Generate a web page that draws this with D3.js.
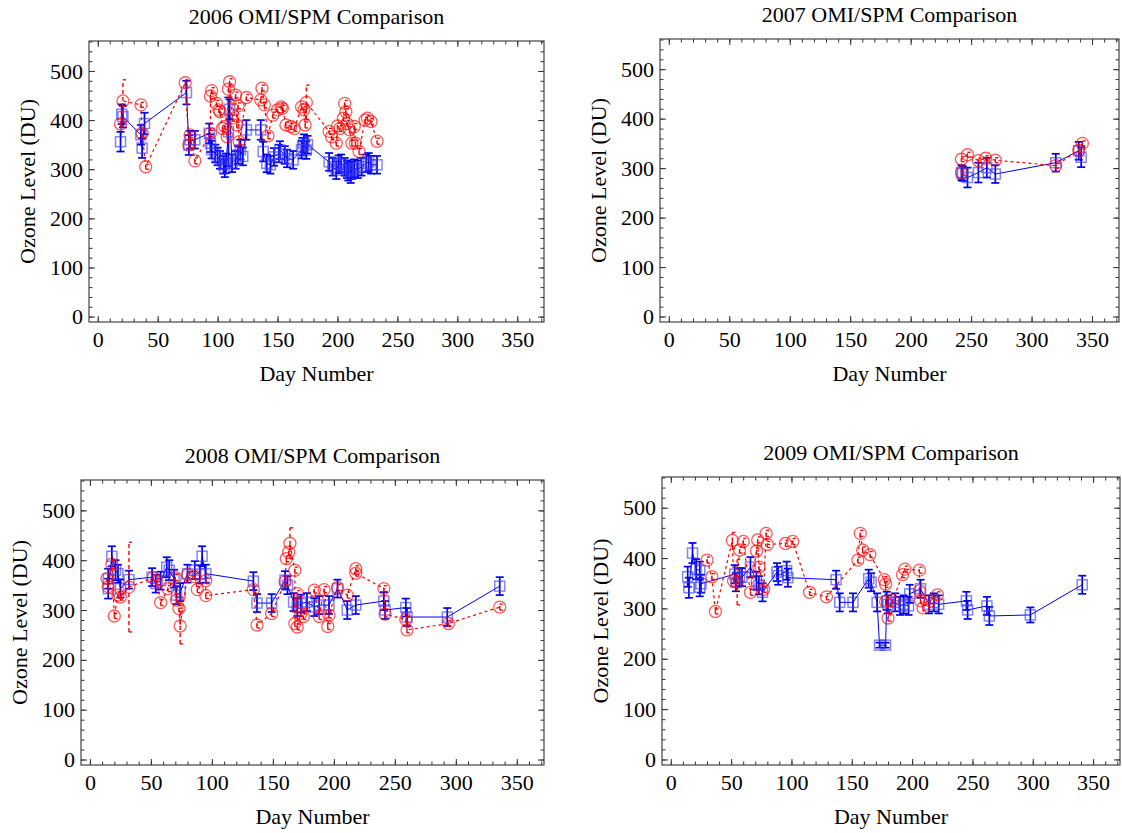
<!DOCTYPE html>
<html>
<head>
<meta charset="utf-8">
<script src="https://cdn.jsdelivr.net/npm/d3@7"></script>
<style>
  body { margin: 0; background: #fff; }
  svg text { font-family: "Liberation Serif", "Times New Roman", serif; fill: #000; }
</style>
</head>
<body>
<svg id="chart" width="1122" height="833"></svg>
<script>
// ticks shared by all four panels
var xMajor = [0, 50, 100, 150, 200, 250, 300, 350];
var yMajor = [0, 100, 200, 300, 400, 500];
var xMinor = d3.range(0, 371, 10);
var yMinor = d3.range(0, 561, 20);

// OMI (blue squares): [day, ozone DU, error]
var omi2006 = [[19,356,20],[20,412,20],[21,407,22],[36,370,20],[37,343,20],[39,393,22],[74,456,24],
  [76,349,20],[77,360,18],[81,360,18],[93,373,20],[94,353,18],[95,340,18],[98,332,18],[100,326,18],
  [102,319,18],[105,309,18],[106,302,18],[107,312,20],[109,376,70],[110,422,20],[112,312,18],[115,319,18],
  [117,329,18],[119,340,20],[121,326,18],[124,380,20],[136,380,20],[138,336,20],[141,312,18],[144,309,18],
  [147,325,18],[151,332,18],[152,339,18],[156,329,18],[158,322,18],[163,319,18],[170,340,18],[171,346,18],
  [172,353,18],[174,339,18],[175,350,18],[193,315,18],[196,305,18],[199,298,18],[201,310,18],[203,312,18],
  [206,305,18],[208,300,18],[209,295,18],[211,290,18],[212,298,18],[214,302,18],[217,300,18],[220,305,18],
  [224,312,18],[226,315,18],[228,309,18],[233,309,18]];
var omi2007 = [[242,291,15],[243,289,15],[247,281,20],[256,291,20],[263,301,20],[270,288,18],
  [320,311,18],[339,335,18],[341,322,20]];
var omi2008 = [[15,363,20],[15,343,20],[18,408,20],[21,380,20],[23,373,18],[25,343,18],[32,361,18],
  [51,366,18],[54,353,18],[58,359,18],[63,386,20],[65,380,20],[69,363,18],[71,330,18],[74,336,18],
  [80,373,18],[86,380,18],[90,372,18],[92,408,20],[95,373,18],[134,358,18],[137,314,18],[149,314,18],
  [160,360,18],[162,350,18],[167,316,18],[170,306,18],[173,313,18],[178,316,18],[184,306,18],[188,310,18],
  [196,310,18],[203,343,18],[211,300,18],[218,310,18],[241,318,18],[242,300,18],[259,305,18],[260,286,18],
  [293,286,18],[336,348,18]];
var omi2009 = [[14,363,20],[15,341,20],[18,410,20],[21,378,20],[24,375,18],[24,342,18],[25,349,18],
  [53,368,18],[54,352,18],[57,362,18],[59,362,18],[66,382,20],[71,355,18],[73,346,18],[76,332,18],
  [88,372,18],[89,365,18],[96,375,18],[97,361,18],[137,357,18],[140,312,18],[151,312,18],[164,359,18],
  [166,352,18],[171,312,18],[173,227,5],[178,227,5],[179,315,18],[180,308,18],[186,312,18],[190,305,18],
  [193,308,18],[197,305,18],[198,329,18],[207,339,18],[214,308,18],[218,312,18],[222,308,18],[245,315,18],
  [246,297,18],[262,305,18],[264,285,18],[298,287,15],[341,347,18]];

// SPM (red circles): [day, ozone DU, error]
var spm2006 = [[19,392,6],[21,439,43],[36,431,5],[37,373,8],[40,305,5],[73,476,6],[76,349,6],[77,370,6],
  [81,317,6],[94,373,6],[94,449,6],[95,460,6],[99,434,6],[101,421,6],[102,417,6],[104,383,6],[106,387,6],
  [108,366,6],[109,463,6],[110,478,6],[112,404,6],[115,451,6],[116,390,6],[117,429,6],[118,356,6],
  [124,446,6],[136,441,6],[137,465,6],[139,431,6],[142,368,6],[146,410,6],[150,421,6],[153,427,6],
  [154,424,6],[157,390,6],[161,387,6],[164,383,6],[170,427,6],[172,421,6],[173,390,6],[174,436,35],
  [193,377,6],[195,366,6],[199,353,6],[200,388,6],[202,383,6],[205,404,6],[206,434,6],[207,417,6],
  [208,393,6],[210,380,6],[212,353,6],[214,387,6],[215,353,6],[218,336,6],[223,400,6],[225,404,6],
  [228,397,6],[233,357,6]];
var spm2007 = [[242,291,5],[242,318,5],[247,327,5],[256,315,5],[262,320,5],[270,316,5],[320,305,5],
  [339,336,5],[342,350,5]];
var spm2008 = [[14,363,6],[15,347,6],[18,392,8],[20,288,5],[23,330,6],[25,326,6],[32,346,90],[52,365,6],
  [55,357,6],[58,315,6],[64,343,6],[70,365,6],[71,320,6],[73,303,6],[74,268,36],[80,371,6],[86,367,6],
  [88,341,6],[95,359,6],[95,329,6],[134,341,6],[137,270,6],[149,293,6],[160,357,6],[161,403,6],[163,416,6],
  [164,434,31],[168,380,6],[168,273,6],[170,333,6],[170,266,6],[173,293,6],[175,287,6],[184,340,6],
  [188,287,6],[192,341,6],[195,267,6],[196,290,6],[203,345,6],[211,330,6],[218,383,6],[218,374,6],
  [241,343,6],[242,292,6],[259,281,6],[260,260,6],[294,273,6],[336,306,6]];
var spm2009 = [[30,396,6],[34,363,6],[37,294,5],[51,435,16],[52,355,6],[55,352,45],[57,416,6],[60,433,6],
  [66,332,6],[71,414,6],[72,436,6],[73,382,6],[77,338,6],[79,449,6],[80,427,6],[95,429,6],[101,433,6],
  [115,332,6],[129,323,6],[155,396,6],[157,449,6],[159,416,6],[165,407,6],[177,357,6],[178,348,6],
  [178,313,6],[180,281,6],[184,316,6],[192,367,6],[194,378,6],[206,376,6],[206,335,6],[207,315,6],
  [209,301,6],[215,315,6],[221,327,6]];

var titles = ["2006 OMI/SPM Comparison", "2007 OMI/SPM Comparison",
              "2008 OMI/SPM Comparison", "2009 OMI/SPM Comparison"];
var omiSets = [omi2006, omi2007, omi2008, omi2009];
var spmSets = [spm2006, spm2007, spm2008, spm2009];

// frame of each panel in page pixels
var boxes = [
  { l: 89,  r: 544,  t: 41,  b: 322 },
  { l: 660, r: 1119, t: 39,  b: 322 },
  { l: 81,  r: 544,  t: 480, b: 765 },
  { l: 662, r: 1120, t: 477, b: 765 }
];

var svg = d3.select("#chart");

function drawPanel(i) {
  var box = boxes[i];
  var w = box.r - box.l, h = box.b - box.t;
  var g = svg.append("g").attr("transform", "translate(" + box.l + "," + box.t + ")");

  var x = d3.scaleLinear().domain([-7.3, 372.3]).range([0, w]);
  var y = d3.scaleLinear().domain([-11, 561]).range([h, 0]);

  // frame ticks, pointing inwards, on all four sides
  function ticks(axisFn, scale, vals, len, labels, pos) {
    var a = axisFn(scale).tickValues(vals).tickSizeInner(-len).tickSizeOuter(0);
    if (!labels) a.tickFormat("");
    var ag = g.append("g").attr("transform", pos).call(a);
    ag.select(".domain").remove();
    ag.selectAll("line").attr("stroke", "#333").attr("stroke-width", 1);
    return ag;
  }
  ticks(d3.axisBottom, x, xMinor, 3.5, false, "translate(0," + h + ")");
  ticks(d3.axisTop, x, xMinor, 3.5, false, "translate(0,0)");
  ticks(d3.axisLeft, y, yMinor, 3.5, false, "translate(0,0)");
  ticks(d3.axisRight, y, yMinor, 3.5, false, "translate(" + w + ",0)");
  ticks(d3.axisTop, x, xMajor, 6, false, "translate(0,0)");
  ticks(d3.axisRight, y, yMajor, 6, false, "translate(" + w + ",0)");
  ticks(d3.axisBottom, x, xMajor, 6, true, "translate(0," + h + ")")
    .call(function (a) { a.selectAll("text").attr("font-size", 22).attr("y", 9); })
    .attr("font-family", null);
  ticks(d3.axisLeft, y, yMajor, 6, true, "translate(0,0)")
    .call(function (a) { a.selectAll("text").attr("font-size", 22).attr("x", -6); })
    .attr("font-family", null);

  g.append("rect").attr("width", w).attr("height", h)
    .attr("fill", "none").attr("stroke", "#444").attr("stroke-width", 1.2);

  // OMI series: line, error bars, squares
  var omi = omiSets[i];
  var line = d3.line().x(function (d) { return x(d[0]); }).y(function (d) { return y(d[1]); });
  g.append("path").datum(omi).attr("d", line)
    .attr("fill", "none").attr("stroke", "#0000ff").attr("stroke-width", 1);

  var eb = g.append("g").attr("stroke", "#0000ee").attr("stroke-width", 1.7);
  omi.forEach(function (d) {
    var cx = x(d[0]), y0 = y(d[1] - d[2]), y1 = y(d[1] + d[2]);
    eb.append("line").attr("x1", cx).attr("x2", cx).attr("y1", y0).attr("y2", y1);
    eb.append("line").attr("x1", cx - 4).attr("x2", cx + 4).attr("y1", y0).attr("y2", y0);
    eb.append("line").attr("x1", cx - 4).attr("x2", cx + 4).attr("y1", y1).attr("y2", y1);
  });
  g.selectAll(".sq").data(omi).enter().append("rect")
    .attr("x", function (d) { return x(d[0]) - 5; })
    .attr("y", function (d) { return y(d[1]) - 5; })
    .attr("width", 10).attr("height", 10)
    .attr("fill", "none").attr("stroke", "rgba(50,50,255,0.6)").attr("stroke-width", 1.5);

  // SPM series: dashed line, dashed error bars, circles
  var spm = spmSets[i];
  g.append("path").datum(spm).attr("d", line)
    .attr("fill", "none").attr("stroke", "#ff0000").attr("stroke-width", 1.2)
    .attr("stroke-dasharray", "3,3");

  var rb = g.append("g").attr("stroke", "#ff0000").attr("stroke-width", 1.4);
  spm.forEach(function (d) {
    var cx = x(d[0]), y0 = y(d[1] - d[2]), y1 = y(d[1] + d[2]);
    rb.append("line").attr("x1", cx).attr("x2", cx).attr("y1", y0).attr("y2", y1)
      .attr("stroke-dasharray", "4,3");
    rb.append("line").attr("x1", cx).attr("x2", cx + 3).attr("y1", y0).attr("y2", y0);
    rb.append("line").attr("x1", cx).attr("x2", cx + 3).attr("y1", y1).attr("y2", y1);
  });
  g.selectAll(".ci").data(spm).enter().append("circle")
    .attr("cx", function (d) { return x(d[0]); })
    .attr("cy", function (d) { return y(d[1]); })
    .attr("r", 6)
    .attr("fill", "none").attr("stroke", "rgba(255,0,0,0.65)").attr("stroke-width", 1.3);

  // titles
  g.append("text").attr("x", w / 2).attr("y", -17).attr("text-anchor", "middle")
    .attr("font-size", 22).text(titles[i]);
  g.append("text").attr("x", w / 2).attr("y", h + 59).attr("text-anchor", "middle")
    .attr("font-size", 22).text("Day Number");
  g.append("text").attr("transform", "translate(-62," + (h / 2) + ") rotate(-90)")
    .attr("text-anchor", "middle").attr("dy", "0.35em")
    .attr("font-size", 22).text("Ozone Level (DU)");
}

for (var i = 0; i < 4; i++) drawPanel(i);
</script>
</body>
</html>
